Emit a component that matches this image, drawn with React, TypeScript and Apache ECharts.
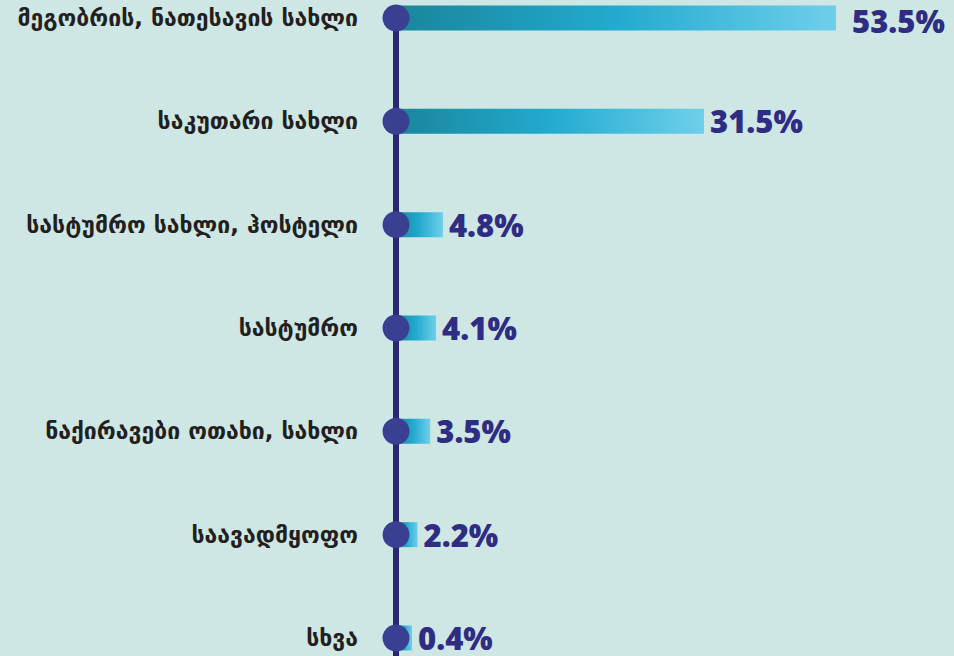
import React, { useEffect, useRef } from "react";
import * as echarts from "echarts";

const categories = [
  "მეგობრის, ნათესავის სახლი",
  "საკუთარი სახლი",
  "სასტუმრო სახლი, ჰოსტელი",
  "სასტუმრო",
  "ნაქირავები ოთახი, სახლი",
  "საავადმყოფო",
  "სხვა",
];
const values = [53.5, 31.5, 4.8, 4.1, 3.5, 2.2, 0.4];

export default function App() {
  const ref = useRef<HTMLDivElement>(null);
  useEffect(() => {
    if (!ref.current) return;
    const chart = echarts.init(ref.current, undefined, { renderer: "svg" });
    const gridLeft = 396;
    const xMax = 45;
    chart.setOption({
      animation: false,
      backgroundColor: "#cfe7e4",
      grid: [
        { left: gridLeft, right: 118, top: 18, bottom: 18, containLabel: false },
        { left: gridLeft, right: 118, top: 18, bottom: -40, containLabel: false },
      ],
      xAxis: [
        { type: "value", gridIndex: 0, min: 0, max: xMax, show: false },
        { type: "value", gridIndex: 1, min: 0, max: 1, show: false },
      ],
      yAxis: [
        {
          type: "category",
          gridIndex: 0,
          data: categories,
          inverse: true,
          boundaryGap: false,
          axisLine: { show: false },
          axisTick: { show: false },
          splitLine: { show: false },
          axisLabel: {
            margin: 38,
            color: "#231f20",
            fontFamily: "DejaVu Sans",
            fontWeight: "bold",
            fontSize: 23,
          },
        },
        {
          type: "value",
          gridIndex: 1,
          min: 0,
          max: 1,
          axisLine: { show: true, onZero: false, lineStyle: { color: "#2b2672", width: 6 } },
          axisTick: { show: false },
          axisLabel: { show: false },
          splitLine: { show: false },
        },
      ],
      series: [
        {
          type: "bar",
          xAxisIndex: 0,
          yAxisIndex: 0,
          data: values.map((v) =>
            v > xMax ? { value: v, label: { distance: 16, offset: [0, 3] } } : v
          ),
          barWidth: 25,
          barMinHeight: 16,
          clip: true,
          z: 2,
          itemStyle: {
            color: new echarts.graphic.LinearGradient(0, 0, 1, 0, [
              { offset: 0, color: "#1a859b" },
              { offset: 0.5, color: "#22aacf" },
              { offset: 1, color: "#6fcfeb" },
            ]),
          },
          label: {
            show: true,
            position: "right",
            distance: 6,
            formatter: "{c}%",
            color: "#2e2d83",
            fontFamily: "Open Sans",
            fontWeight: 800,
            fontSize: 31,
          },
        },
        {
          type: "scatter",
          xAxisIndex: 0,
          yAxisIndex: 0,
          data: categories.map((c) => [0, c]),
          symbol: "circle",
          symbolSize: 27,
          clip: false,
          z: 5,
          itemStyle: { color: "#3a3f92", opacity: 1 },
          silent: true,
        },
      ],
    });
    return () => chart.dispose();
  }, []);
  return (
    <div
      ref={ref}
      style={{ position: "fixed", left: 0, top: 0, width: 954, height: 656 }}
    />
  );
}
